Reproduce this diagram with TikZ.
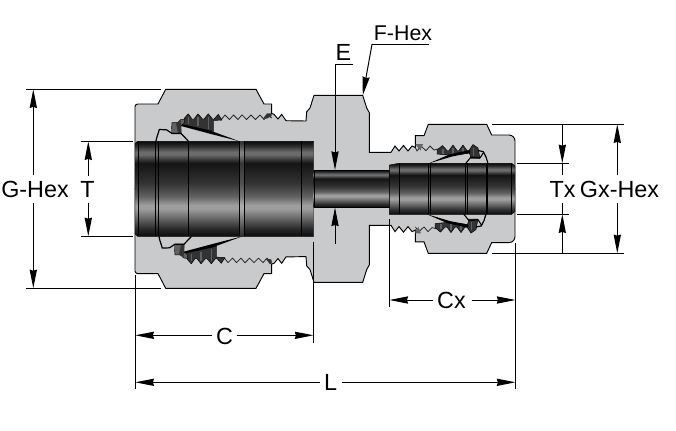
\documentclass[tikz,border=0pt]{standalone}
\usepackage{fontspec}
\setmainfont{Liberation Sans}
\usetikzlibrary{arrows.meta}
\definecolor{steel}{HTML}{C9CACB}
\definecolor{thr}{HTML}{333333}
\pgfdeclareverticalshading{tubeshade}{100bp}{
 color(0bp)=(black!95);color(25bp)=(black!95);color(29bp)=(black!84);color(34bp)=(black!62);
 color(39.5bp)=(black!38);color(41.5bp)=(black!38);color(46bp)=(black!62);color(53bp)=(black!80);color(63.5bp)=(black!92);
 color(65.5bp)=(black!78);color(68bp)=(black!58);color(69.5bp)=(black!58);color(72.5bp)=(black!82);color(75bp)=(black!96);color(100bp)=(black!96)}
\tikzset{
 body/.style={fill=steel,draw=black,line width=.7pt,line join=miter},
 tube/.style={shading=tubeshade,draw=black,line width=.3pt},
 groove/.style={draw=black,line width=.75pt},
 band/.style={fill=white,fill opacity=.15,draw=none},
 darkthr/.style={fill=thr,draw=black,line width=.35pt,line join=round},
 midthr/.style={fill=black!62,draw=black,line width=.35pt},
 thread/.style={draw=black!85,line width=.6pt,line join=round},
 dimline/.style={draw=black,line width=.75pt},
 dimarrow/.style={dimline,-{Stealth[length=14pt,width=5.4pt,inset=.8pt]}},
 lab/.style={inner sep=0pt,anchor=base,font=\fontsize{17.5}{17.5}\selectfont,text=black}
}
\newcommand{\halfbody}{
 \path[body] (135,188.8) -- (135,106.5) to[out=90,in=180] (138,104) -- (158,104) -- (165.7,89.3) -- (256,89.3) -- (264,104) -- (271.7,104) -- (271.7,113.5)
  -- (274,114.3) -- (278,119) -- (281.7,114.3) -- (286,120.7) -- (306,121) -- (306.7,111.7) -- (310,108) -- (314,95.3)
  -- (362.7,95.3) -- (366.7,108) -- (369.3,112.7) -- (369.3,152.3) -- (391,152.3) -- (395,146) -- (399,151) -- (403.5,145.5) -- (408,151) -- (412,146) -- (415.3,147.5)
  -- (415.3,135.7) -- (424,135.7) -- (428.3,124.3) -- (486.7,124.3) -- (491.7,135) -- (509,135) to[out=0,in=90] (515,141) -- (515,188.8) -- cycle;
}
\newcommand{\leftinner}{
 \draw[thread] (218,118) -- (221,120) -- (225,115) -- (229.5,119.5) -- (233.5,115) -- (238,119.5) -- (242,114.8) -- (246.5,119.5) -- (251,115) -- (255.5,119.5) -- (260,115) -- (264,119.5) -- (268,115) -- (271.7,118);
 \fill[thr] (263,118.5) -- (267,113.4) -- (271.7,113.4) -- (271.7,116) -- (267,118.5) -- cycle;
 \path[darkthr] (183,123.5) -- (184.5,118) -- (188.3,113.8) -- (192,119) -- (194,119) -- (198,113.8) -- (202.5,119) -- (204,119) -- (208.3,113.8) -- (212.5,119) -- (214,119) -- (218.3,114.3) -- (222,120) -- (213.5,120.5) -- (213.5,131.5) -- (183,125) -- cycle;
 \draw[black!62,line width=1.1pt] (188.3,117) -- (188.3,124) (198,117) -- (198,126) (208.3,117) -- (208.3,128.5);
 \fill[black] (181,124) -- (210,130.5) -- (239.5,141.3) -- (211,134) -- (181,126) -- cycle;
 \path[midthr] (171.5,129) -- (172,122.7) -- (178,122.7) -- (180.5,119.7) -- (185,119) -- (184,123.5) -- (181,125.5) -- (181,133.5) -- (171.5,133.5) -- cycle;
 \fill[thr] (176,122.9) -- (180.5,120) -- (181.5,133) -- (178,133) -- cycle;
 \draw[black,line width=.9pt] (156,141) to[out=80,in=-105] (159.3,129.5) -- (166.5,129.8) -- (172,133.4) -- (181,133.4) -- (188.3,141);
}
\newcommand{\rightinner}{
 \draw[thread] (415.3,147.5) -- (417,151) -- (421,146) -- (426,150.7) -- (430,146) -- (434,150) -- (438,149);
 \fill[black!60] (415.3,144.2) -- (423,144.2) -- (420.5,150.6) -- cycle;
 \path[darkthr] (437,154) -- (437,150) -- (442.5,145.5) -- (447,150.5) -- (449,150.5) -- (453,145) -- (457,150.5) -- (459,150.5) -- (463,145) -- (467,150.5) -- (469,150.5) -- (473,144.5) -- (478,148) -- (480,158.5) -- (471,158.5) -- (469.5,153) -- (452,155.5) -- cycle;
 \draw[black!62,line width=1pt] (443,148.5) -- (443,154) (453,148) -- (453,154) (463,148) -- (463,153) (473.5,148) -- (473.5,156);
 \fill[black] (428.5,163.5) -- (450,154.2) -- (470,150) -- (470,153) -- (452,156.5) -- cycle;
 \draw[black,line width=.9pt] (478,150.5) -- (483.3,151.7) -- (486,157) -- (488,163.5);
 \draw[black,line width=.8pt] (480,158) -- (483.5,152.5);
 \draw[black,line width=.8pt] (465.7,163.5) -- (471,157) -- (480,158);
}
\begin{document}
\begin{tikzpicture}[x=.75pt,y=-.75pt]
\useasboundingbox (0,0) rectangle (676,430);
\halfbody
\begin{scope}[shift={(0,377.6)},yscale=-1]\halfbody\end{scope}
\leftinner \rightinner
\begin{scope}
\clip (135,189) rectangle (271.7,300);
\begin{scope}[shift={(3,377.6)},yscale=-1]\leftinner\end{scope}
\end{scope}
\begin{scope}
\clip (415.3,189) rectangle (515,300);
\begin{scope}[shift={(-2,377.6)},yscale=-1]\rightinner\end{scope}
\end{scope}
\path[tube] (135,143.5) -- (137.5,141.3) -- (313.7,141.3) -- (313.7,236.3) -- (137.5,236.3) -- (135,234) -- cycle;
\path[tube] (313.7,170) rectangle (389.5,207.4);
\path[tube] (389.3,165) -- (399,163.3) -- (511.7,163.3) -- (515,166) -- (515,211.5) -- (511.7,214.3) -- (389.3,214.3) -- cycle;
\fill[band] (239,141.3) rectangle (244.3,236.3);
\draw[groove] (138.3,141.3) -- (138.3,236.3) (155.7,141.3) -- (155.7,236.3) (158.3,141.3) -- (158.3,236.3)
 (188.3,141.3) -- (188.3,236.3) (239,141.3) -- (239,236.3) (244.3,141.3) -- (244.3,236.3) (301.7,141.3) -- (301.7,236.3);
\draw[groove,line width=.5pt] (399.3,163.3) -- (399.3,214.3) (428.3,163.3) -- (428.3,214.3) (430.3,163.3) -- (430.3,214.3)
 (465.7,163.3) -- (465.7,214.3) (467,163.3) -- (467,214.3) (486,163.3) -- (486,214.3) (487.7,163.3) -- (487.7,214.3) (511.7,163.3) -- (511.7,214.3);
\node[lab] (ghex) at (35,197) {G-Hex};
\node[lab] (tt) at (87.5,197) {T};
\node[lab] (ee) at (343.5,60) {E};
\node[lab,font=\fontsize{16}{16}\selectfont] (fhex) at (403,40.7) {F-Hex};
\node[lab] (tx) at (562.5,197) {Tx};
\node[lab] (gx) at (619.5,197) {Gx-Hex};
\node[lab] (cc) at (224.5,344) {C};
\node[lab] (cx) at (451.5,308) {Cx};
\node[lab] (ll) at (330.5,390.7) {L};
\coordinate (ga1) at (26,89.3); \coordinate (ga2) at (161,89.3);
\coordinate (gb1) at (26,288.3); \coordinate (gb2) at (161,288.3);
\coordinate (gt) at (33.3,89.3); \coordinate (gtg) at (33.3,175);
\coordinate (gb) at (33.3,288.3); \coordinate (gbg) at (33.3,202.7);
\coordinate (ta1) at (81,141.3); \coordinate (ta2) at (133,141.3);
\coordinate (tb1) at (81,236.3); \coordinate (tb2) at (133,236.3);
\coordinate (tt1) at (88.3,141.3); \coordinate (ttg) at (88.3,176);
\coordinate (tb) at (88.3,236.3); \coordinate (tbg) at (88.3,202.7);
\coordinate (e1) at (353,64.3); \coordinate (e2) at (335,64.3); \coordinate (e3) at (335,170);
\coordinate (e4) at (335,243.5); \coordinate (e5) at (335,207.4);
\coordinate (f1) at (429,44.3); \coordinate (f2) at (372,44.3); \coordinate (f3) at (362.8,95.3);
\coordinate (xa1) at (492,124.3); \coordinate (xa2) at (624,124.3);
\coordinate (xb1) at (492,253.3); \coordinate (xb2) at (624,253.3);
\coordinate (tx1) at (517,163.3); \coordinate (tx2) at (569,163.3);
\coordinate (tx3) at (517,214.3); \coordinate (tx4) at (569,214.3);
\coordinate (v1) at (562.3,124.3); \coordinate (v2) at (562.3,163.3); \coordinate (v1g) at (562.3,175);
\coordinate (v3) at (562.3,253.3); \coordinate (v4) at (562.3,214.3); \coordinate (v3g) at (562.3,203.3);
\coordinate (w1) at (617.3,124.3); \coordinate (w1g) at (617.3,175);
\coordinate (w2) at (617.3,253.3); \coordinate (w2g) at (617.3,203.3);
\coordinate (l1) at (135.3,275); \coordinate (l2) at (135.3,389);
\coordinate (c1) at (313.5,241.7); \coordinate (c2) at (313.5,342.7);
\coordinate (r1) at (515.5,243.3); \coordinate (r2) at (515.5,389);
\coordinate (k1) at (389.4,219); \coordinate (k2) at (389.4,307.3);
\coordinate (cl) at (135.3,335.3); \coordinate (clg) at (211.7,335.3);
\coordinate (cr) at (313.5,335.3); \coordinate (crg) at (236.7,335.3);
\coordinate (ll1) at (135.3,382.3); \coordinate (ll1g) at (320,382.3);
\coordinate (ll2) at (515.5,382.3); \coordinate (ll2g) at (341.7,382.3);
\coordinate (kl) at (389.4,300); \coordinate (klg) at (433,300);
\coordinate (kr) at (515.5,300); \coordinate (krg) at (471.7,300);
\draw[dimline] (ga1)--(ga2) (gb1)--(gb2) (ta1)--(ta2) (tb1)--(tb2) (xa1)--(xa2) (xb1)--(xb2) (tx1)--(tx2) (tx3)--(tx4)
 (l1)--(l2) (c1)--(c2) (r1)--(r2) (k1)--(k2) (f1)--(f2);
\draw[dimarrow] (gtg)--(gt); \draw[dimarrow] (gbg)--(gb);
\draw[dimarrow] (ttg)--(tt1); \draw[dimarrow] (tbg)--(tb);
\draw[dimarrow] (e1)--(e2)--(e3); \draw[dimarrow] (e4)--(e5);
\draw[dimarrow] (f2)--(f3);
\draw[dimarrow] (v1)--(v2); \draw[dimline] (v2)--(v1g);
\draw[dimarrow] (v3)--(v4); \draw[dimline] (v4)--(v3g);
\draw[dimarrow] (w1g)--(w1); \draw[dimarrow] (w2g)--(w2);
\draw[dimarrow] (clg)--(cl); \draw[dimarrow] (crg)--(cr);
\draw[dimarrow] (ll1g)--(ll1); \draw[dimarrow] (ll2g)--(ll2);
\draw[dimarrow] (klg)--(kl); \draw[dimarrow] (krg)--(kr);
\end{tikzpicture}
\end{document}
